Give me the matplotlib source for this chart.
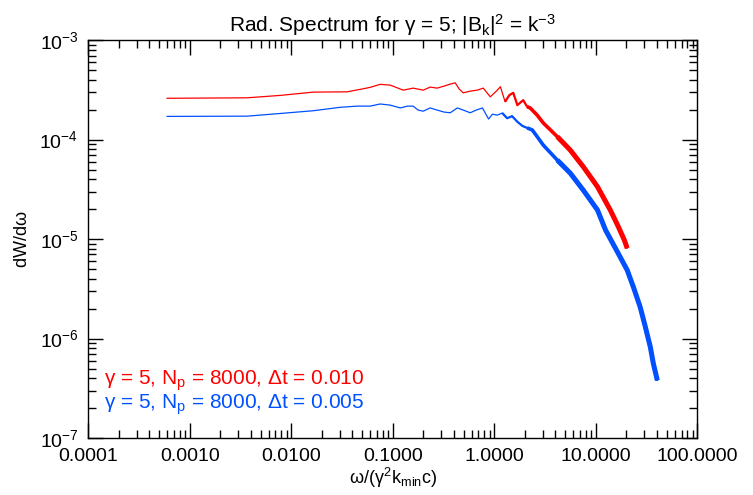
import numpy as np
import matplotlib.pyplot as plt
from matplotlib.ticker import FixedLocator, LogLocator, NullFormatter

plt.rcParams['font.family'] = ['Liberation Sans', 'DejaVu Sans']
plt.rcParams['mathtext.fontset'] = 'custom'
plt.rcParams['mathtext.rm'] = 'Liberation Sans'
plt.rcParams['mathtext.it'] = 'Liberation Sans'

# values
red_x = [6.0e-4, 3.69e-3, 7.8e-3, 0.0165, 0.0356, 0.0512, 0.060, 0.0753, 0.0945,
         0.127, 0.159, 0.2, 0.234, 0.274, 0.321, 0.369, 0.413, 0.452, 0.495, 0.58,
         0.68, 0.78, 0.914, 1.05, 1.15, 1.28, 1.41, 1.54, 1.69, 1.93, 2.11, 2.26,
         2.65, 3.04, 4.18, 5.61, 7.54, 10.4, 13.9, 16.7, 19.1, 20.4]
red_y = [2.60e-4, 2.63e-4, 2.78e-4, 3.0e-4, 3.02e-4, 3.24e-4, 3.35e-4, 3.59e-4, 3.53e-4,
         3.14e-4, 3.29e-4, 3.14e-4, 3.37e-4, 3.29e-4, 3.45e-4, 3.61e-4, 3.72e-4, 3.22e-4,
         2.95e-4, 3.07e-4, 3.14e-4, 3.29e-4, 2.69e-4, 3.07e-4, 3.40e-4, 2.40e-4, 2.80e-4,
         2.95e-4, 2.22e-4, 2.49e-4, 2.14e-4, 2.08e-4, 1.76e-4, 1.47e-4, 1.07e-4, 7.84e-5,
         5.33e-5, 3.36e-5, 1.96e-5, 1.33e-5, 9.8e-6, 8.1e-6]

blue_x = [6.0e-4, 3.69e-3, 7.8e-3, 0.0165, 0.0303, 0.0448, 0.060, 0.0753, 0.0945,
          0.119, 0.14, 0.159, 0.178, 0.2, 0.234, 0.274, 0.321, 0.369, 0.433, 0.495,
          0.58, 0.665, 0.765, 0.88, 0.96, 1.07, 1.2, 1.34, 1.5, 1.69, 1.9, 2.11,
          2.37, 2.65, 3.04, 4.18, 5.61, 7.54, 10.4, 12.5, 16.0, 20.4, 23.5, 27.4,
          30.8, 34.5, 36.8, 40.4]
blue_y = [1.71e-4, 1.72e-4, 1.83e-4, 1.95e-4, 2.11e-4, 2.17e-4, 2.17e-4, 2.28e-4, 2.22e-4,
          2.08e-4, 2.17e-4, 2.17e-4, 1.98e-4, 1.93e-4, 2.08e-4, 1.98e-4, 1.89e-4, 1.86e-4,
          2.08e-4, 1.98e-4, 1.86e-4, 1.98e-4, 2.08e-4, 1.61e-4, 1.80e-4, 1.76e-4, 1.85e-4,
          1.64e-4, 1.72e-4, 1.51e-4, 1.37e-4, 1.31e-4, 1.25e-4, 1.07e-4, 8.81e-5, 6.22e-5,
          4.60e-5, 3.10e-5, 1.96e-5, 1.23e-5, 7.74e-6, 4.88e-6, 3.29e-6, 2.07e-6,
          1.31e-6, 8.2e-7, 5.7e-7, 3.8e-7]

x_ticks = [1e-4, 1e-3, 1e-2, 1e-1, 1, 10, 100]
x_ticklabels = ['0.0001', '0.0010', '0.0100', '0.1000', '1.0000', '10.0000', '100.0000']
y_ticks = [1e-7, 1e-6, 1e-5, 1e-4, 1e-3]
y_ticklabels = [r'10$^{-7}$', r'10$^{-6}$', r'10$^{-5}$', r'10$^{-4}$', r'10$^{-3}$']

red = '#ff0000'
blue = '#0050ff'

fig = plt.figure(figsize=(7.53, 4.95), dpi=100)
ax = fig.add_axes([0.117, 0.115, 0.809, 0.804])

for xs, ys, c in [(red_x, red_y, red), (blue_x, blue_y, blue)]:
    xs = np.array(xs)
    ys = np.array(ys)
    ax.plot(xs, ys, color=c, lw=0.9)
    # the high-frequency part is a noisy band in the original
    for start, w in [(1.2, 1.6), (2.0, 2.6), (4.0, 3.6)]:
        m = xs >= start
        ax.plot(xs[m], ys[m], color=c, lw=w, solid_capstyle='butt')

ax.set_xscale('log')
ax.set_yscale('log')
ax.set_xlim(1e-4, 100)
ax.set_ylim(1e-7, 1e-3)

ax.xaxis.set_major_locator(FixedLocator(x_ticks))
ax.set_xticklabels(x_ticklabels)
ax.yaxis.set_major_locator(FixedLocator(y_ticks))
ax.set_yticklabels(y_ticklabels)
ax.xaxis.set_minor_locator(LogLocator(base=10, subs=np.arange(2, 10), numticks=20))
ax.yaxis.set_minor_locator(LogLocator(base=10, subs=np.arange(2, 10), numticks=20))
ax.xaxis.set_minor_formatter(NullFormatter())
ax.yaxis.set_minor_formatter(NullFormatter())

ax.tick_params(which='both', direction='in', top=True, right=True, width=1, labelsize=14)
ax.tick_params(which='major', length=11, pad=7)
ax.tick_params(which='minor', length=5.5)
for s in ax.spines.values():
    s.set_linewidth(1)

ax.set_title(r'Rad. Spectrum for $\gamma$ = 5; |B$_{\rm k}$|$^2$ = k$^{-3}$', fontsize=15, pad=6)
ax.set_xlabel(r'$\omega$/($\gamma^2$k$_{\rm min}$c)', fontsize=13, labelpad=1)
ax.set_ylabel(r'dW/d$\omega$', fontsize=13, labelpad=6)

ax.text(0.026, 0.143, r'$\gamma$ = 5, N$_{\rm p}$ = 8000, $\Delta$t = 0.010',
        transform=ax.transAxes, color=red, fontsize=15, va='center')
ax.text(0.026, 0.083, r'$\gamma$ = 5, N$_{\rm p}$ = 8000, $\Delta$t = 0.005',
        transform=ax.transAxes, color=blue, fontsize=15, va='center')

fig.savefig('out.png', dpi=100)
